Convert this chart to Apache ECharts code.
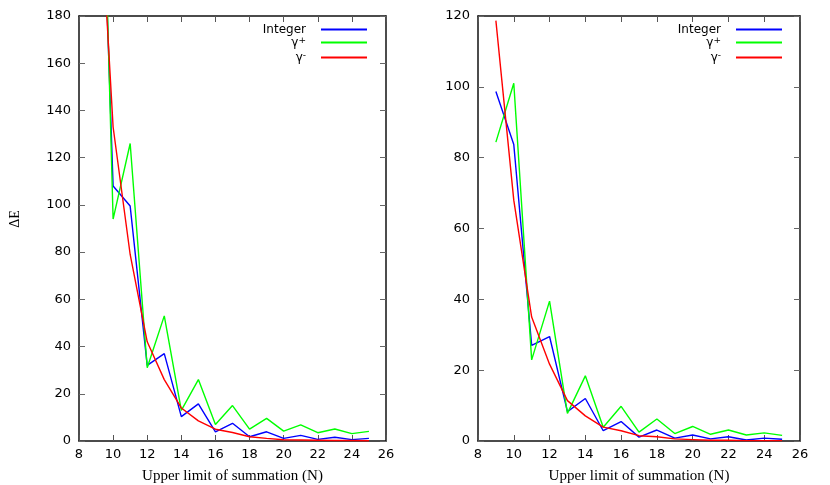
<!DOCTYPE html>
<html>
<head>
<meta charset="utf-8">
<script src="https://cdn.jsdelivr.net/npm/echarts@6/dist/echarts.min.js"></script>
<style>
html,body{margin:0;padding:0;background:#fff;}
#chart{width:830px;height:485px;}
</style>
</head>
<body>
<div id="chart"></div>
<script>
// Upper limit of summation N
const xValues = [9, 10, 11, 12, 13, 14, 15, 16, 17, 18, 19, 20, 21, 22, 23, 24, 25];

// Left panel
const leftInteger    = [320, 108, 99.5, 32, 37, 10.3, 15.7, 3.9, 7.5, 1.8, 3.9, 1.1, 2.4, 0.7, 1.6, 0.6, 1.1];
const leftGammaPlus  = [360, 94, 126, 31, 53, 13, 26, 7, 15, 5, 9.6, 4.2, 6.8, 3.5, 5.1, 3.1, 4.1];
const leftGammaMinus = [260, 133, 79, 42, 26, 14, 8.5, 5, 3.6, 1.8, 1.1, 0.5, 0.4, 0.3, 0.2, 0.2, 0.1];

// Right panel
const rightInteger    = [98.7, 83.7, 27, 29.5, 8.3, 12, 2.9, 5.5, 1.1, 3.1, 0.8, 1.7, 0.6, 1.2, 0.3, 0.8, 0.5];
const rightGammaPlus  = [84.4, 101, 22.9, 39.5, 7.8, 18.4, 3.9, 9.8, 2.5, 6.2, 2.1, 4.1, 1.9, 3.1, 1.7, 2.3, 1.6];
const rightGammaMinus = [118.7, 68, 35, 21.7, 11.4, 7.1, 3.9, 2.9, 1.5, 1.2, 0.6, 0.4, 0.2, 0.2, 0.1, 0.1, 0.1];

const seriesNames = ['Integer', 'γ+', 'γ-'];
const seriesColors = ['#0000ff', '#00ff00', '#ff0000'];
const xAxisTitle = 'Upper limit of summation (N)';
const yAxisTitle = 'ΔE';

const SANS = 'DejaVu Sans';
const SERIF = 'Liberation Serif';

function pairs(arr) { return xValues.map((x, i) => [x, arr[i]]); }

function mkX(gi, pos, withLabel) {
  return {
    gridIndex: gi, type: 'value', position: pos, min: 8, max: 26, interval: 2,
    axisLine: { show: true, onZero: false, lineStyle: { color: '#111', width: 1.5 } },
    axisTick: { show: true, inside: true, length: 6, lineStyle: { color: '#555', width: 1 } },
    axisLabel: { show: withLabel, fontFamily: SANS, fontSize: 13, color: '#000', margin: 7 },
    splitLine: { show: false },
    name: withLabel ? xAxisTitle : '',
    nameLocation: 'middle', nameGap: 28,
    nameTextStyle: { fontFamily: SERIF, fontSize: 15, color: '#000' }
  };
}
function mkY(gi, pos, max, withLabel, name) {
  return {
    gridIndex: gi, type: 'value', position: pos, min: 0, max: max, interval: 20,
    axisLine: { show: true, onZero: false, lineStyle: { color: '#111', width: 1.5 } },
    axisTick: { show: true, inside: true, length: 6, lineStyle: { color: '#666', width: 1 } },
    axisLabel: { show: withLabel, fontFamily: SANS, fontSize: 13, color: '#000', margin: 8 },
    splitLine: { show: false },
    name: name || '',
    nameLocation: 'middle', nameGap: 57,
    nameTextStyle: { fontFamily: SERIF, fontSize: 14, color: '#000', padding: [0, 0, 0, 19] }
  };
}
function mkSeries(name, color, data, idx) {
  return {
    name: name, type: 'line', data: pairs(data), xAxisIndex: idx, yAxisIndex: idx,
    showSymbol: false, symbol: 'none', clip: true, animation: false,
    lineStyle: { color: color, width: 1.4 }, itemStyle: { color: color }
  };
}
function legendFmt(name) {
  if (name === 'γ+') return '{g|γ}{s|+}';
  if (name === 'γ-') return '{g|γ}{s|-}';
  return '{g|' + name + '}';
}
function mkLegend(right) {
  return {
    orient: 'vertical', align: 'right', right: right, top: 18,
    itemWidth: 46, itemHeight: 2, itemGap: 0, icon: 'rect',
    data: seriesNames, formatter: legendFmt,
    textStyle: {
      fontFamily: SANS, fontSize: 12, color: '#000', lineHeight: 13,
      padding: [0, 10, 0, 0],
      rich: {
        g: { fontFamily: SANS, fontSize: 12, color: '#000', lineHeight: 13 },
        s: { fontFamily: SANS, fontSize: 9, color: '#000', lineHeight: 13, verticalAlign: 'top', padding: [0, 0, 6, 0] }
      }
    },
    selectedMode: false
  };
}

const chart = echarts.init(document.getElementById('chart'), null, { renderer: 'canvas' });
const leftSets = [leftInteger, leftGammaPlus, leftGammaMinus];
const rightSets = [rightInteger, rightGammaPlus, rightGammaMinus];
const series = [];
leftSets.forEach((d, i) => series.push(mkSeries(seriesNames[i], seriesColors[i], d, 0)));
rightSets.forEach((d, i) => series.push(mkSeries(seriesNames[i], seriesColors[i], d, 2)));

chart.setOption({
  backgroundColor: '#fff',
  animation: false,
  grid: [
    { left: 79, top: 16, width: 307, height: 425, containLabel: false, outerBoundsMode: 'none' },
    { left: 478, top: 16, width: 322, height: 425, containLabel: false, outerBoundsMode: 'none' }
  ],
  xAxis: [mkX(0, 'bottom', true), mkX(0, 'top', false), mkX(1, 'bottom', true), mkX(1, 'top', false)],
  yAxis: [mkY(0, 'left', 180, true, yAxisTitle), mkY(0, 'right', 180, false), mkY(1, 'left', 120, true), mkY(1, 'right', 120, false)],
  legend: [mkLegend(458), mkLegend(43)],
  series: series
});
</script>
</body>
</html>
